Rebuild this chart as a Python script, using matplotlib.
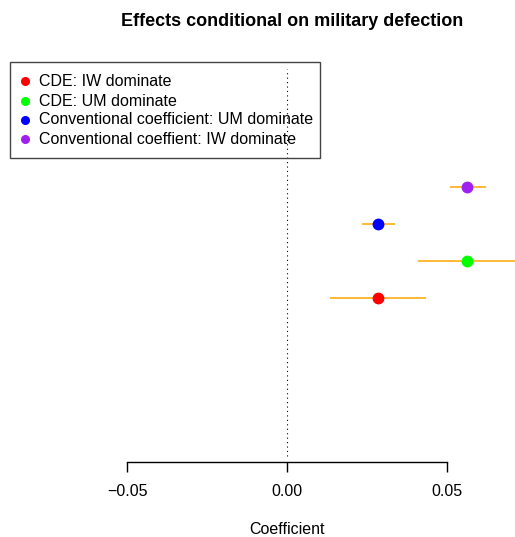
import matplotlib
matplotlib.use("Agg")
import matplotlib.pyplot as plt
from matplotlib.patches import Rectangle

labels = ["CDE: IW dominate", "CDE: UM dominate",
          "Conventional coefficient: UM dominate", "Conventional coeffient: IW dominate"]
colors = ["#FF0000", "#00FF00", "#0000FF", "#A020F0"]
estimates = [0.0284, 0.0563, 0.0284, 0.0563]
lower = [0.0134, 0.0410, 0.0234, 0.0509]
upper = [0.0434, 0.0760, 0.0338, 0.0622]
ypos = [1, 2, 3, 4]
xticks = [-0.05, 0.0, 0.05]
xticklabels = ["\u22120.05", "0.00", "0.05"]

W, H = 515, 537
plt.rcParams['font.family'] = ['Liberation Sans', 'DejaVu Sans']
fig = plt.figure(figsize=(W/100, H/100), dpi=100)

# plot region in pixels
left_px, right_px, top_px, bot_px = 10, 564, 63, 462
ax = fig.add_axes([left_px/W, 1 - bot_px/H, (right_px-left_px)/W, (bot_px-top_px)/H])
ax.set_xlim(-0.0866, 0.0866)
ax.set_ylim(1 - (462-298)/37, 1 + (298-63)/37)
for s in ["top", "right", "left", "bottom"]:
    ax.spines[s].set_visible(False)
ax.set_yticks([])
ax.set_xticks(xticks)
ax.set_xticklabels(xticklabels, fontsize=11.5)
ax.tick_params(axis="x", length=7, width=1, pad=9, color="black")
ax.plot([xticks[0], xticks[-1]], [ax.get_ylim()[0]]*2, color="black", lw=1,
        clip_on=False)

ax.axvline(0, color="black", lw=0.8, ls=(0, (1, 3)), ymax=0.985, ymin=0.015)

for e, lo, hi, y, c in zip(estimates, lower, upper, ypos, colors):
    ax.plot([lo, hi], [y, y], color="#FFA500", lw=1.1, solid_capstyle="butt", zorder=2)
    ax.plot([e], [y], "o", color=c, ms=7.5, mec=c, zorder=3)

fig.text(287/W, 1 - 529/H, "Coefficient", ha="center", va="center", fontsize=11.5)

fig.text(292/W, 1 - 21/H, "Effects conditional on military defection",
         ha="center", va="center", fontsize=13, fontweight="bold")

# legend
def fx(px): return px / W
def fy(py): return 1 - py / H
fig.patches.append(Rectangle((fx(10), fy(158)), fx(320) - fx(10), fy(62) - fy(158),
                             transform=fig.transFigure, fill=False, edgecolor="#444444", lw=1))
leg_y = [81, 101, 120, 139]
for lab, c, yy in zip(labels, colors, leg_y):
    fig.lines.append(plt.Line2D([fx(25)], [fy(yy)], marker="o", color=c, ms=5.5,
                                transform=fig.transFigure))
    fig.text(fx(39), fy(yy), lab, ha="left", va="center", fontsize=11.5)

fig.savefig("out.png", dpi=100)
